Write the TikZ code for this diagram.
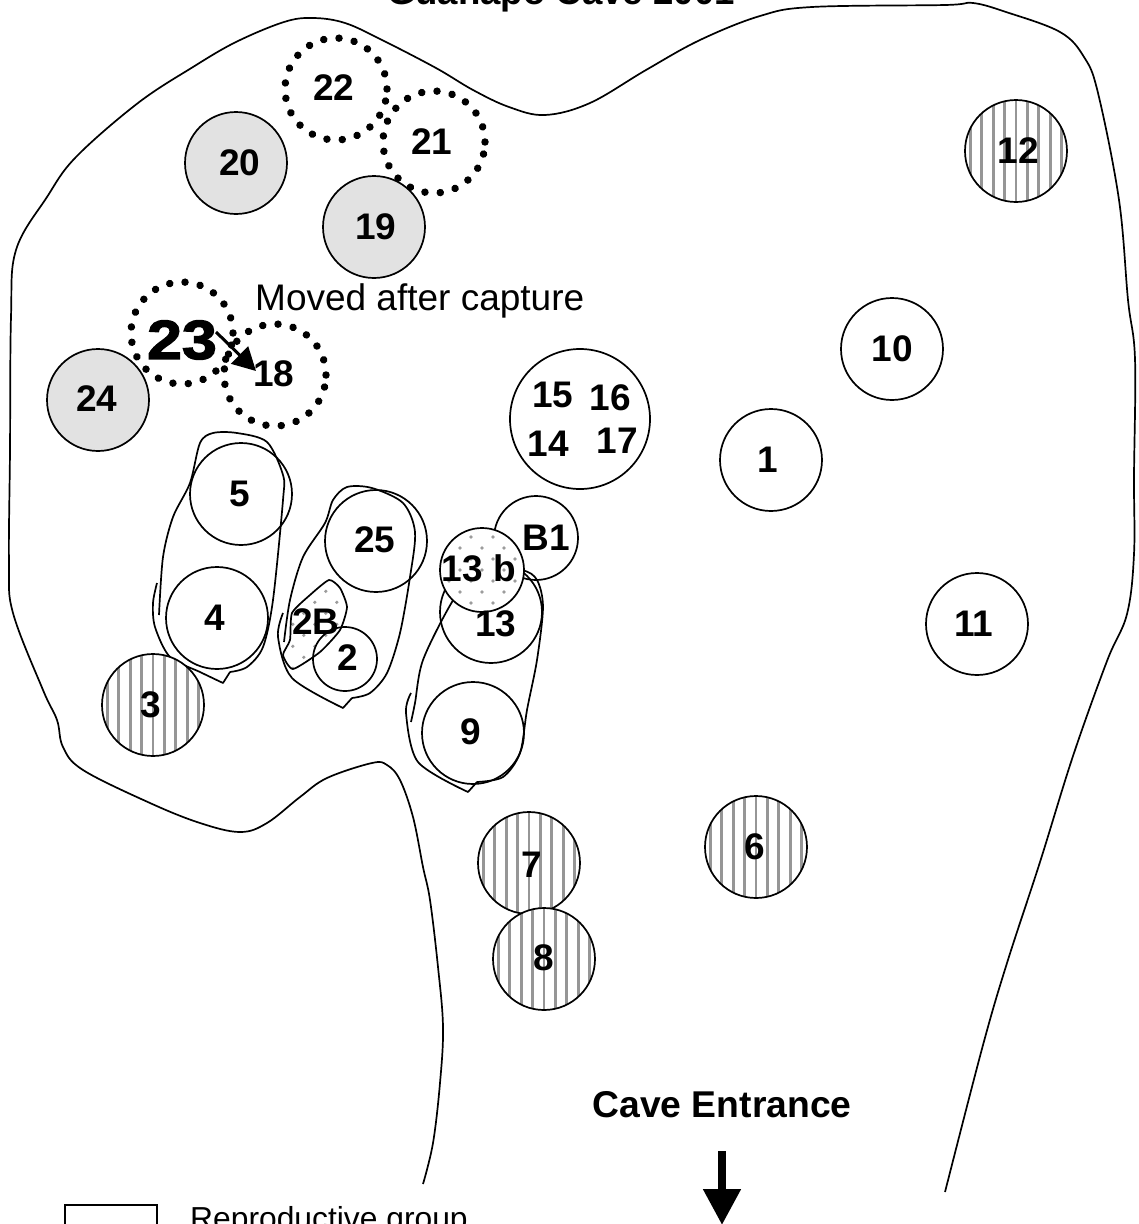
\documentclass[tikz,border=0pt]{standalone}
\usepackage{fontspec}
\setmainfont{Liberation Sans}
\newfontfamily\heavyfont{Liberation Sans}[BoldFeatures={FakeBold=2.5,FakeStretch=1.14}]
\usetikzlibrary{arrows.meta, positioning}
\definecolor{hatchgray}{HTML}{969696}
\definecolor{dotgray}{HTML}{9C9C9C}
\definecolor{roostgray}{HTML}{E2E2E2}
\tikzset{
  caveline/.style={line width=1.7pt, line join=round},
  plainspot/.style={circle, draw, line width=1.7pt, minimum size=102pt, inner sep=0pt},
  greyspot/.style={plainspot, fill=roostgray},
  dotspot/.style={circle, draw, line width=7.5pt, line cap=round, dash pattern=on 0.01pt off 15.4pt, minimum size=102pt, inner sep=0pt},
  hatchspot/.style={plainspot, fill=white, path picture={
    \foreach \h in {-57,-45.6,...,57}{
      \draw[hatchgray, line width=2.8pt] (path picture bounding box.center) ++(\h,-60) -- ++(0,120);
    }}},
  stipple/.style={path picture={
    \foreach \u in {-3,...,3}{
      \foreach \v in {-3,...,3}{
        \fill[dotgray] (path picture bounding box.center) ++(22*\u,22*\v) circle (1.8);
        \fill[dotgray] (path picture bounding box.center) ++(22*\u+11,22*\v+11) circle (1.8);
      }
    }}},
  spotlabel/.style={font=\fontsize{37}{37}\selectfont\bfseries, inner sep=0pt},
}

\begin{document}
\begin{tikzpicture}[x=1pt, y=-1pt]
  \useasboundingbox (0,0) rectangle (1139,1224);
  \clip (0,0) rectangle (1139,1224);
  % Cave wall
  \draw[caveline] plot[smooth, tension=0.6] coordinates {
    (423,1184) (433,1143) (440,1083) (443,1027) (438,967) (430,900) (423,867) (413,817) (400,780)
    (387,765) (372,763) (327,778) (300,797) (267,823) (240,832) (200,823) (150,803) (83,770)
    (63,747) (57,720) (43,690) (13,613) (9,563) (10,450) (11,317) (16,250) (47,197) (76,157)
    (138,103) (193,67) (236,42) (284,22) (313,18) (345,23) (382,40) (436,68) (473,90) (509,107)
    (545,115) (590,103) (646,70) (700,40) (760,16) (812,7) (945,5) (973,3) (1006,12) (1060,32)
    (1084,57) (1098,93) (1119,200) (1128,300) (1135,359) (1134,477) (1134,554) (1127,614)
    (1107,661) (1073,756) (1040,862) (1007,963) (983,1045) (945,1192)};

  % Group outlines
  \draw[caveline] plot[smooth, tension=0.5] coordinates {
    (157,583) (153,603) (155,627) (170,657) (200,672) (223,683)}
    -- (230,672) plot[smooth, tension=0.5] coordinates {
    (230,672) (247,667) (263,647) (273,600) (283,500) (283,475) (267,442) (237,433) (213,433)
    (200,443) (190,483) (173,517) (163,557) (159,615)};
  \draw[caveline] plot[smooth, tension=0.5] coordinates {
    (283,613) (278,637) (292,678) (343,708)}
    -- (352,698) plot[smooth, tension=0.5] coordinates {
    (352,698) (370,693) (387,673) (400,633) (410,577) (415,532) (403,503) (372,488) (347,487)
    (333,500) (325,523) (303,557) (290,600) (284,642)};
  \draw[caveline] plot[smooth, tension=0.5] coordinates {
    (411,693) (406,713) (418,762) (468,792)}
    -- (477,782) plot[smooth, tension=0.5] coordinates {
    (477,782) (503,777) (520,753) (527,710) (537,660) (543,607) (537,580) (522,570)
    (480,565) (452,602) (423,660) (415,703) (411,722)};

  % Shaded area of 2
  \draw[caveline, fill=white, stipple] plot[smooth cycle, tension=0.35] coordinates {
    (329,580) (340,588) (347,607) (340,630) (320,652) (293,669) (283,655) (290,640) (292,613) (310,595)};

  % Dotted spots
  \foreach \n/\x/\y in {22/336/89, 21/434/142, 23/182/333, 18/275/375}{
    \node[dotspot] (spot\n) at (\x,\y) {};
  }
  % Grey spots
  \foreach \n/\x/\y in {20/236/163, 19/374/227, 24/98/400}{
    \node[greyspot] (spot\n) at (\x,\y) {};
  }
  % Open spots
  \foreach \n/\x/\y in {10/892/349, 1/771/460, 11/977/624, 13/491/612, 9/473/733, 5/241/494, 4/217/618, 25/376/541}{
    \node[plainspot] (spot\n) at (\x,\y) {};
  }
  \node[plainspot, minimum size=140pt] (spotcluster) at (580,419) {};
  \node[plainspot, minimum size=84pt] (spotB1) at (536,538) {};
  \node[plainspot, minimum size=64pt] (spot2) at (345,659) {};
  \node[plainspot, minimum size=84pt, fill=white, stipple] (spot13b) at (482,570) {};
  % Hatched spots
  \foreach \n/\x/\y in {12/1016/151, 3/153/705, 6/756/847, 7/529/863, 8/544/959}{
    \node[hatchspot] (spot\n) at (\x,\y) {};
  }

  % Labels
  \foreach \n/\x/\y in {22/334/88, 21/432/142, 20/240/163, 19/376/227, 24/97/399, 18/274/374,
    12/1018/151, 10/892/349, 1/768/460, 11/974/624, 15/553/395, 16/610/398, 14/548/444, 17/617/441,
    B1/546/538, 13/496/624, 9/471/732, 5/240/494, 4/215/618, 25/375/540, 2B/316/622, 2/348/658,
    3/151/705, 7/532/865, 6/755/847, 8/544/958}{
    \node[spotlabel] (label\n) at (\x,\y) {\n};
  }
  \node[spotlabel] (label13b) at (479,568) {13 b};
  \node[inner sep=0pt, font=\fontsize{55}{55}\heavyfont\bfseries] (label23) at (182,340) {23};

  \node[inner sep=0pt, anchor=base west, font=\fontsize{37}{37}\selectfont] (movedtext) at (255,310) {Moved after capture};
  \coordinate (movestart) at (216,332);
  \coordinate (moveend) at (256,371);
  \draw[-{Triangle[length=23pt, width=24pt]}, line width=3pt] (movestart) -- (moveend);

  % Title and entrance
  \node[inner sep=0pt, anchor=base, font=\fontsize{36.6}{36.6}\selectfont\bfseries] (title) at (561,4) {Guanapo Cave 2001};
  \node[inner sep=0pt, anchor=base, font=\fontsize{37.3}{37.3}\selectfont\bfseries] (entrance) at (722,1117) {Cave Entrance};
  \coordinate (entrytop) at (722,1151);
  \coordinate (entrytip) at (722,1225);
  \draw[-{Triangle[length=36pt, width=36pt]}, line width=8pt] (entrytop) -- (entrytip);

  % Legend
  \node[draw, line width=1.7pt, minimum width=92pt, minimum height=60pt, inner sep=0pt, anchor=north west] (legendbox) at (64,1204) {};
  \node[inner sep=0pt, anchor=base west, font=\fontsize{31.8}{31.8}\selectfont] (legendtext) at (190,1229) {Reproductive group};
\end{tikzpicture}
\end{document}
